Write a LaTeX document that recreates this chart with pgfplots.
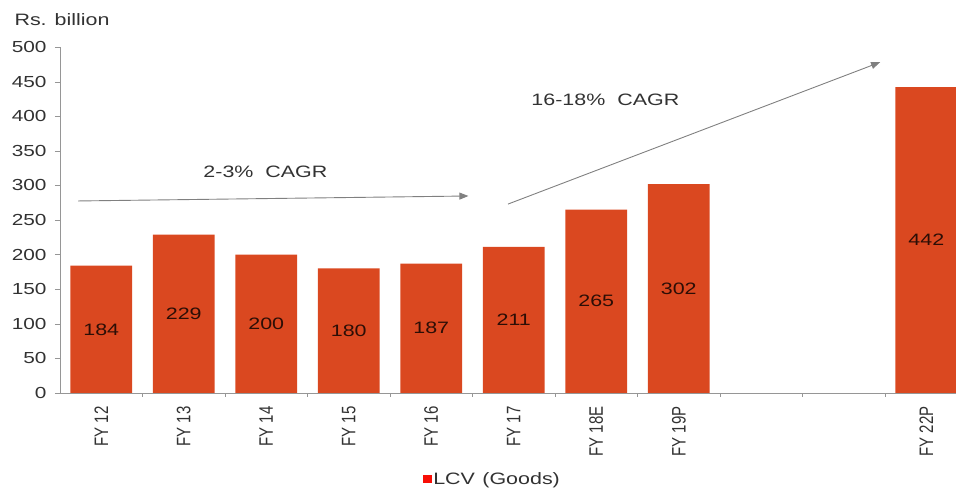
\documentclass[border=0pt]{standalone}
\usepackage{fontspec}
\setmainfont{Liberation Sans}[FakeStretch=1.3]
\newfontfamily\plainfont{Liberation Sans}
\usepackage{graphicx}
\usepackage{pgfplots}
\pgfplotsset{compat=1.18}
\usetikzlibrary{arrows.meta}
\definecolor{barc}{RGB}{218,72,32}
\definecolor{axc}{RGB}{150,150,150}
\definecolor{txt}{RGB}{50,50,50}
\newcommand{\xl}[1]{\scalebox{1}[1.3]{#1}}
\begin{document}
\begin{tikzpicture}
\begin{axis}[
  scale only axis, width=896pt, height=346pt,
  xmin=-0.5, xmax=10.36, ymin=0, ymax=500,
  axis x line*=bottom, axis y line*=left,
  axis line style={axc, line width=0.8pt},
  ytick={0,50,...,500},
  /pgf/number format/assume math mode=true,
  yticklabel style={font=\fontsize{16}{16}\selectfont, text=txt, xshift=-5pt},
  y tick style={axc}, major tick length=5pt,
  tick align=outside,
  xtick={0,1,2,3,4,5,6,7,10},
  xticklabels={\xl{FY 12},\xl{FY 13},\xl{FY 14},\xl{FY 15},\xl{FY 16},\xl{FY 17},\xl{FY 18E},\xl{FY 19P},\xl{FY 22P}},
  x tick style={draw=none},
  xticklabel style={rotate=90, anchor=east, font=\plainfont\fontsize{15}{15}\selectfont, text=txt, xshift=-5pt},
  extra x ticks={0.5,1.5,2.5,3.5,4.5,5.5,6.5,7.5,8.5,9.5},
  extra x tick labels={},
  extra x tick style={x tick style={draw=axc}, major tick length=4pt},
  clip=false,
  legend style={at={(0.4825,-0.248)}, anchor=center, draw=none, font=\fontsize{16.5}{16.5}\selectfont, text=txt, nodes={inner xsep=1.5pt}},
  legend image code/.code={\fill[red!80!barc] (0pt,-4pt) rectangle (8.5pt,4pt);},
]
\addplot[ybar, bar width=0.75, bar shift=0pt, fill=barc, draw=none]
  coordinates {(0,184) (1,229) (2,200) (3,180) (4,187) (5,211) (6,265) (7,302) (10,442)};
\addlegendentry{LCV\hspace{0.45em}(Goods)}
\addplot[draw=none, mark=none, forget plot, nodes near coords, point meta=explicit symbolic,
  every node near coord/.style={anchor=center, font=\fontsize{16.5}{16.5}\selectfont, text=black!80!barc}]
  coordinates {(0,92)[184] (1,114.5)[229] (2,100)[200] (3,90)[180] (4,93.5)[187] (5,105.5)[211] (6,132.5)[265] (7,151)[302] (10,221)[442]};
\draw[-{Triangle[length=9pt,width=7pt]}, gray, line width=0.9pt] (axis cs:-0.28,277.5) -- (axis cs:4.45,284.7);
\draw[-{Triangle[length=9pt,width=7pt]}, gray, line width=0.9pt] (axis cs:4.93,273) -- (axis cs:9.44,478);
\node[font=\fontsize{16.5}{16.5}\selectfont, text=txt] at (axis cs:1.99,319) {2-3\%\ \ CAGR};
\node[font=\fontsize{16.5}{16.5}\selectfont, text=txt] at (axis cs:6.11,423) {16-18\%\ \ CAGR};
\end{axis}
\node[anchor=west, font=\fontsize{16.5}{16.5}\selectfont, text=txt] at (-49pt,373pt) {Rs. billion};
\pgfresetboundingbox
\path (-60pt,-96pt) rectangle (896pt,393pt);
\end{tikzpicture}
\end{document}
